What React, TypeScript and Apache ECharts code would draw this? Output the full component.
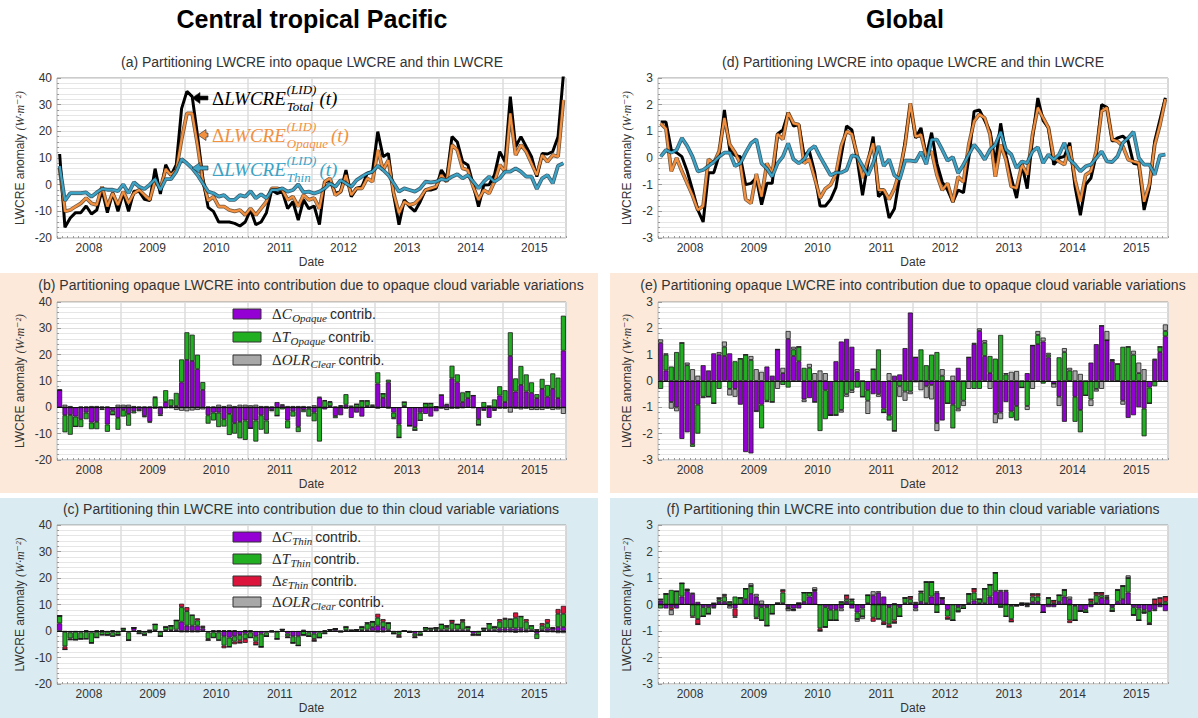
import React, { useEffect, useRef } from 'react';
import * as echarts from 'echarts';

// ---------------- categories / ticks ----------------
const YEARS = [2008, 2009, 2010, 2011, 2012, 2013, 2014, 2015];
const MONTHS: string[] = [];
YEARS.forEach((y) => {
  for (let m = 1; m <= 12; m++) MONTHS.push(`${y}-${m < 10 ? '0' + m : m}`);
});

// ---------------- Central tropical Pacific: (a) lines ----------------
const ctpTotal = [
  11.5, -16, -12.5, -10.5, -10.5, -8, -11, -9.5, -2, -10.5, -3, -10,
  -3, -10, -2.5, -2.5, -5.5, -6, 6, -3.5, 7.5, 3.5, 7.5, 28.5,
  35, 33, 18.5, 2.4, -8.5, -10, -14, -14, -14, -14.5, -15.5, -14,
  -9.5, -15, -14, -10.5, -2, -3.3, -2.6, -9, -6.4, -13.3, -5.7, -9,
  -8, -15, 1, 1.7, -3.3, -2.6, 5.5, -4.5, -1.4, -0.8, 4.2, 4.9,
  19.9, 10.5, 11.7, -3.9, -15, -5.7, -8.2, -10, -6.4, -2, -2, -1.4,
  5.5, 2.4, 18, 16, 8.6, 7.4, -0.1, -8.2, -0.1, 0, 3.6, 12.4,
  8.6, 33, 14.2, 18, 14.2, 10.5, 3, 11.7, 11.5, 12.4, 18, 41,
];
const ctpOpaque = [
  6, -10, -9.5, -8.2, -7, -5, -7, -7.6, -0.8, -8.2, -3.2, -7.6,
  -2.6, -7, -3.2, -2, -3.9, -5.7, 1.7, -1.4, 5.9, 3.6, 5.5, 17,
  26.7, 26.7, 15, 1.5, -6, -4.5, -8.2, -8.2, -9.5, -10, -9.5, -11.4,
  -8.9, -11.4, -8.9, -6.4, -1.4, -1.4, -2, -5.7, -4.5, -8.2, -3.9, -5.7,
  -5, -9, 1.1, 2.4, -3.9, -2.6, 3.6, -3.9, -1.4, -1.4, 2.4, 1.1,
  13, 5.5, 9.2, -3.3, -10.7, -6.4, -7.6, -7, -5.1, -2, -1.4, -0.8,
  3.6, 1.1, 14.9, 13, 6.1, 5.5, -0.8, -5.7, -2, -3.3, 1.1, 7.4,
  4.9, 26.7, 11.1, 14.9, 12.4, 8, 3.6, 11.1, 8.6, 11.1, 10.5, 31.7,
];
const ctpThin = [
  7, -6, -3.2, -3.2, -3.2, -2.9, -4.5, -2.9, -1.6, -1.9, -1.9, -2.4,
  0.1, -3.2, 0.9, -0.8, -1.6, 0, 2.1, -2, 2.1, 2.1, 4.9, 9.6,
  8, 6.1, 3.6, 0.5, -2.6, -3.2, -4.5, -3.9, -5.7, -5.7, -3.9, -4.5,
  -2.4, -5.1, -3.6, -5.1, -2, -2, -1.4, -2.6, -2, 0.1, -2.9, -2.6,
  -3.3, -2.6, -1.4, 0.5, -0.8, 1.7, 0.5, -0.8, 1.7, 3, 4.2, 4.9,
  7.1, 5.5, 3.6, 0.5, -2.6, -1.4, -2, -2.6, -1.4, 1.1, 0.9, 1.1,
  2.1, 1.7, 3, 3.9, 2.4, 3.6, 1.1, -1.4, 1.1, 3, 1.1, 2.4,
  4.9, 4.9, 6.1, 4.9, 3, 3, -1.6, 2.4, 3.6, 0.5, 7.1, 8,
];

// ---------------- (b) opaque contributions ----------------
const ctpCOpaque = [
  6.5, -3, -2.9, -3.5, -4.5, -2, -5.8, -5.5, -0.5, -6.5, -1.3, -4,
  -1, -2.5, -1.5, -1, -3.3, -5.5, -0.5, -2.8, 2, 0.5, 0.5, 9.5,
  18, 17.6, 14.5, 6.6, -3, -2, -2, -4.5, -2.5, -6, -5.5, -5,
  -8, -5, -3, -5, -1, 2, 0.8, -5, -1.5, -7.4, -1, -0.5,
  -2, 3.7, -0.8, 0.5, -3.3, -3, 1, -4, -2, -3.5, 0.5, 0.2,
  9, 3.6, 9.5, -2, -6.5, 0.5, -7, -7.5, -2, -2.5, -3.5, -1.5,
  4.7, 1, 11, 9.5, 2, 3.5, 4.5, -4.5, -1, -4, -1, 4.5,
  2, 19.5, 6, 8.5, 6, 5.5, 3.5, 7, 4, 7, 3.5, 21.5,
];
const ctpTOpaque = [
  0, -6.5, -7.5, -3.8, -3, -2.5, -2.5, -2.8, -0.5, -2.8, -1.5, -4.5,
  -2.5, -4.5, -0.8, -0.5, -0.5, -0.3, 3.8, -0.5, 4.5, 2.5, 5, 8.7,
  10.5, 10, 5.5, 3, -3.2, -3, -5.5, -2.8, -8, -4, -6.3, -7.4,
  0, -8, -5.5, -5, -0.5, -3.2, -0.8, -3, -2, -2, -0.8, -3,
  -3.3, -13, 2.5, 1.5, -0.8, 0.5, 4, 0.3, 1.2, 2.5, 2, 0.5,
  4.3, 1.6, 1, -2, -5, 1.5, 0, -1.2, -3, 1.5, 1.5, 0.3,
  0, 0.3, 4.8, 3, 3.7, 2.5, 0, -2.2, 2, 0.5, 3, 3.5,
  4.5, 9, 5, 7.2, 6.5, 4, 1.5, 3.8, 4.5, 5.9, 7.8, 13.3,
];
const ctpOLROpaque = [
  0.3, 1, 0.5, 0, 0.3, 0.3, 0.5, 0.5, 0.3, 0.3, 0, 1,
  1, 1, 0.5, 0.3, 0.3, 0.3, 0.2, 0.3, -0.3, -0.3, -1, -1.3,
  -1.5, -1.2, -1, -0.8, 0.3, 0.3, 1, 0.5, 1, 0.5, 1, 1,
  0.8, 1, 0.5, 0.5, 0.3, 0, 0.3, 0.5, 0.5, 0.5, 0.5, 0.3,
  0.8, 0.3, 0.2, 0.3, 0.3, 0.3, -0.5, 0.3, 0, 0, 0, 0.3,
  -0.5, 0, -0.5, -0.5, 0, 0, 0, 0, 0, 0, 0, 0,
  -0.5, -1, -0.5, -0.5, -0.3, 0, -0.3, 0, -0.2, 0, -0.3, -0.5,
  -0.5, -2, -0.5, -0.8, -0.5, -1, -1, -1, -0.5, -1, -0.8, -2.5,
];

// ---------------- (c) thin contributions ----------------
const ctpCThin = [
  2.9, -0.3, -0.5, -0.3, -0.5, -0.3, -0.5, -0.3, -0.3, -0.3, -0.5, -0.3,
  0.2, -0.5, 1.2, -0.3, -0.5, -0.3, 0.3, -0.3, 0.3, 0.3, 0.5, 3.5,
  2, 2, 2, 1, -0.5, -0.5, -0.5, -2, -2.5, -2, -1.5, -1,
  -0.5, -2, -1, -0.5, 0.2, -0.3, 0.3, -1, -2, -2, 0.5, -0.5,
  -1, -0.5, -0.3, 0.2, 0.8, 0, 0.3, 0, 0.2, 0.3, 0.5, 1.5,
  2, 1.5, 0.5, -0.3, -0.3, 0, -0.2, -1, -0.5, 0.3, 0.3, 0.4,
  0.5, 0.5, 0.5, 0.5, 0.5, 0.5, -1, -0.3, 0.3, 0.5, 0.5, 1,
  1, 1, 1, 1, 0.5, 0.5, -1, 0.5, 1, 1, 1.5, 1.5,
];
const ctpTThin = [
  2.8, -5.5, -2.3, -3, -2.5, -2.7, -4, -2.2, -1.2, -1.2, -1.5, -1.2,
  0.8, -3, 0, -0.7, -1, -0.5, 2.2, -1.7, 1.2, 1.7, 3.5, 5.5,
  5.5, 4, 2, 0.5, -2.5, -2, -3, -3.5, -3.5, -2, -2, -2,
  -2, -2, -5, -1.5, -0.3, -2.7, 0.3, -1, -2.5, -3.5, -1.5, -1.5,
  -2, -2, -0.7, 0.3, 0, -0.3, 1.2, 0.3, 0.3, 1.2, 2.3, 2,
  3, 2, 2.5, -0.7, -1.2, 0, -0.3, -1, -1, 1, 0.7, 0.8,
  2, 1, 2.5, 2, 3, 1, -0.5, -1.2, 0.7, 2.3, 1, 2.5,
  3.5, 3.5, 4, 4.5, 3, 1.5, -2, 1.5, 2, 0, 5, 5,
];
const ctpEpsThin = [
  0, -1.2, -0.5, 0, 0, 0, 0, 0, 0, 0, 0, 0,
  0, 0, 0, 0, 0, 0.3, 0, 0, 0, 0, 0, 1.3,
  1.5, 0, 0.8, 0.5, -0.5, 0, 0, -1, 0, -1, -1, -1.5,
  0, -1.2, 0, 0, 0, 0, 0, -0.5, 0, 0, 0, 0,
  -0.8, 0, 0, 0, 0, 0, 0, 0, 0, 0, 0.3, 0,
  1.5, 1, 0, 0, -0.8, 0, 0, -0.5, 0, 0, 0, 0,
  0, 0.5, 1, 0, 0.7, 0, 0, 0, 0, 0, 0, 1,
  0.5, 0, 2, 0, 1, 0, 0.5, 1, 1.5, 0.5, 1.8, 3,
];
const ctpOLRThin = [
  0, 0, 0, 0, 0, 0.3, 0, 0.3, 0.3, 0, 0.3, 0,
  -0.3, 0, 0, 0.3, 0, 0, 0, 0, 0, 0, 0, -0.5,
  -0.5, -0.5, -0.5, -0.3, 0, 0.3, 0.3, 0.3, 0.3, 0.3, 0, 0.3,
  0.3, 0, 0, 0, 0, 0, 0, 0, 0, 0, 0, 0,
  0, 0, 0.3, 0, 0, 0, 0, 0, 0, 0, 0, 0,
  -0.5, -0.5, 0, 0, 0, 0, 0, 0, 0, 0, 0, 0,
  0, 0, 0, 0, 0, 0, 0, 0, 0, 0, 0, -0.5,
  -0.5, -0.5, -0.7, -0.5, -0.5, -0.3, 0, -0.3, -0.5, -0.5, -0.8, -0.8,
];

// ---------------- Global: (d) lines ----------------
const glbTotal = [
  1.35, 1.35, 0.3, 0.2, 0.05, -0.5, -1.2, -1.95, -2.4, -0.55, -0.55, 0.1,
  1.8, 0.3, 0.1, 0.05, -1, -0.95, -0.75, -1.75, -0.95, -0.95, 0.9, 1.05,
  1.7, 1.2, 1.25, 0.1, 0.25, -0.55, -1.8, -1.8, -1.55, -1.1, 0.1, 1.2,
  1.05, -0.05, -1.4, -0.2, 0.8, -1.45, -1.25, -2.25, -1.9, -0.7, 0.6, 2.0,
  0.75, 1.13, 0.06, 0.95, -0.2, -0.9, -1.2, -1.65, -1.2, -1.3, 0, 1.75,
  1.8, 1.4, 1.0, -0.2, 1.3, 0.1, -0.75, -1.5, -0.25, -1.15, 0.75, 2.25,
  1.4, 1.13, -0.25, 0, 0.06, 0.57, -1.07, -2.15, -1.0, -0.75, 0.13, 2.0,
  1.9, 0.63, 0.75, 0.82, 0.63, -0.2, -0.25, -1.95, -1.13, 0.63, 1.45, 2.26,
];
const glbOpaque = [
  1.3, 1.1, -0.5, 0, -0.5, -0.95, -1.4, -1.95, -1.8, -0.05, -0.2, 0.25,
  1.5, 0.5, 0.2, -0.2, -1.55, -1.7, -0.6, -1.45, -0.2, -0.6, 0.9, 0.7,
  1.7, 1.3, 1.25, -0.2, -0.05, -0.75, -1.5, -1.15, -1.0, -0.6, 0.45, 1.0,
  0.9, 0.1, -0.75, -0.1, 0.55, -1.2, -1.2, -1.55, -1.15, -0.5, 0.5, 2.05,
  0.8, 0.88, 0.06, 0.25, -0.63, -1.2, -0.95, -1.65, -0.7, -0.9, 0.5, 1.38,
  1.64, 1.5, 0.88, -0.7, 0.5, -0.06, -1.07, -1.13, -0.25, -0.63, 0.88, 1.89,
  1.5, 1.13, 0, -0.13, -0.25, 0.44, -0.82, -1.64, -0.63, -0.5, 0.25, 1.76,
  1.89, 0.69, 0.63, 0.44, -0.06, -0.13, -0.19, -1.64, -1.0, 0.5, 1.26, 2.2,
];
const glbThin = [
  0.05, 0.3, 0.2, 0.3, 0.75, 0.45, 0.05, -0.5, -0.45, -0.3, -0.15, 0.05,
  0.2, 0.2, -0.3, -0.2, 0.2, 0.55, 0.7, -0.2, -0.4, -0.7, -0.2, 0.05,
  0.55, -0.05, -0.2, -0.05, 0.3, 0.45, 0.05, -0.3, -0.65, -0.55, -0.55, -0.45,
  0.1, 0.05, -0.3, -0.65, -0.2, 0.45, -0.3, -0.05, -0.65, -0.8, -0.1, -0.1,
  -0.13, 0.23, -0.23, 0.69, 0.69, 0.31, -0.1, 0.03, -0.57, -0.25, 0.13, 0.5,
  0.25, -0.06, 0.31, 0.5, 0.98, 0.31, 0.13, -0.38, -0.13, -0.19, 0.25, 0.4,
  -0.19, 0.13, -0.06, 0.13, 0.57, -0.06, -0.25, -0.5, -0.31, -0.25, 0, 0.25,
  -0.13, -0.15, 0.06, 0.57, 0.75, 0.98, 0, -0.25, -0.25, -0.63, 0.1, 0.13,
];

// ---------------- (e) global opaque contributions ----------------
const glbCOpaque = [
  1.45, 0.4, -0.8, -1.0, -2.2, -1.95, -2.4, -0.9, 0.6, 0.4, 1.05, 1.0,
  0.95, 1.05, -0.3, -0.9, -2.7, -2.75, -1.15, -0.9, 0.55, 0.2, 1.2, 0.3,
  1.6, 0.95, 0.75, -0.7, -0.65, -0.8, 0, -0.35, -1.3, 0.75, 1.5, 1.6,
  1.3, 0.35, 0, -0.35, -0.5, -0.5, -1.05, -1.3, 0.2, 0.25, 1.25, 2.6,
  0.9, 0, -0.2, -0.15, -1.6, -1.5, 0, -0.9, 0.5, 0, 0.9, 1.4,
  1.9, 0.95, 0.3, -1.25, -1.2, -0.8, -1.15, -0.95, 0, 0.3, 1.35, 1.4,
  1.5, 0.9, -0.1, -0.6, -1.55, 0, -0.6, -1.1, 0, 0.7, 1.4, 2.1,
  1.55, 0.75, 0, -0.75, -1.4, -1.3, -1.0, -1.05, -0.25, 0.8, 1.1, 1.7,
];
const glbTOpaque = [
  -0.3, 0.6, 0.55, 1.1, 1.45, 0.6, -0.1, -1.1, -0.6, -0.6, -0.85, -0.3,
  0.35, -0.3, 0.75, 0.85, 1.0, 0.8, 0, -0.9, -0.75, -0.8, 0, -0.15,
  -0.25, 0.25, 0.55, 0.5, 0.5, 0, -1.9, -1.1, 0, -1.3, -1.1, -0.5,
  -0.35, -0.25, -0.6, -0.4, 0.45, 1.2, -0.15, -0.2, -1.9, -0.2, -0.4, -0.4,
  0, 1.2, 0.6, 1.0, 1.1, 0.2, -0.85, -0.9, -1.05, -0.75, 0, -0.3,
  -0.3, 0.5, 0.65, 0.85, 1.75, 0.25, -0.25, -0.55, -0.25, -0.95, 0, 0.35,
  -0.1, 0.1, 0, 0.9, 1.1, 0.4, -0.95, -0.85, -0.55, -0.7, -0.3, 0,
  0, 0.05, 0.65, 1.3, 1.3, 1.0, 0.3, -1.05, -0.6, -0.2, 0.2, 0.2,
];
const glbOLROpaque = [
  0.13, 0.05, -0.25, -0.15, 0, 0.1, 0.45, 0.2, -0.05, 0, 0, 0.1,
  0.2, -0.25, -0.3, 0, 0, 0.15, 0.45, 0.35, -0.05, 0, -0.3, 0.2,
  0.3, 0.1, 0, -0.1, 0.15, 0.3, 0.4, 0.3, 0, 0, -0.1, -0.1,
  -0.1, 0.1, 0, -0.5, 0, -0.1, 0, 0.3, 0, -0.4, -0.35, -0.1,
  -0.05, -0.35, -0.45, -0.55, -0.3, 0.25, 0, 0.2, -0.1, -0.2, -0.3, 0.05,
  0.1, 0.1, -0.3, -0.35, -0.25, 0.05, 0.35, 0.38, 0, -0.15, -0.3, 0.15,
  0.15, 0.07, -0.15, -0.35, 0.15, 0.1, 0.4, 0.27, 0, -0.25, -0.1, -0.3,
  0.35, 0.02, 0, -0.15, 0, 0.15, 0.4, 0.45, 0, 0.05, 0, 0.25,
];

// ---------------- (f) global thin contributions ----------------
const glbCThin = [
  0.15, -0.15, -0.1, -0.15, 0.3, 0.5, 0.4, 0.1, -0.1, -0.1, -0.1, 0.1,
  0.1, -0.05, -0.15, 0, 0.2, 0.4, 0.3, -0.1, -0.1, 0, 0, 0.05,
  -0.1, -0.15, -0.15, 0.1, 0.3, 0.5, 0, -0.1, -0.2, -0.2, -0.15, 0.1,
  -0.15, -0.3, -0.15, 0.05, 0.35, 0.45, 0.3, -0.1, 0.05, -0.1, 0.05, 0.05,
  -0.15, 0.1, 0.05, 0.3, 0.45, 0.2, -0.2, 0, -0.1, -0.05, 0.05, 0.15,
  0.05, 0.05, 0.3, 0.5, 0.5, 0.5, -0.05, 0, -0.05, -0.05, 0.1, 0.1,
  -0.3, -0.1, -0.1, 0.1, 0.3, 0.2, -0.05, -0.25, -0.2, -0.1, 0.05, 0.25,
  0.2, -0.1, 0.1, 0.2, 0.45, -0.1, -0.15, -0.2, -0.25, -0.2, -0.1, -0.25,
];
const glbTThin = [
  -0.15, 0.4, 0.55, 0.5, 0.5, 0.05, -0.45, -0.55, -0.35, -0.25, -0.05, 0.1,
  0.2, 0.1, 0.3, 0.25, 0.4, 0.3, -0.5, -0.5, -0.7, -0.35, 0.05, 0.4,
  -0.05, -0.05, 0.05, 0.35, 0.15, 0.05, -0.9, -0.75, -0.4, -0.4, 0.1, 0.1,
  0.15, -0.25, -0.3, 0.3, -0.5, -0.55, -0.65, -0.65, -0.6, -0.35, 0.2, 0.15,
  0.05, 0.35, 0.8, 0.55, -0.3, 0.05, -0.25, -0.6, -0.15, -0.1, 0.35, 0.3,
  0.15, 0.55, 0.45, 0.7, -0.1, -0.45, -0.5, -0.05, 0.05, 0.05, 0.2, 0.2,
  0, 0.25, 0.05, 0.25, 0.25, -0.6, -0.55, 0, -0.1, 0.1, 0.3, 0.1,
  0.05, -0.15, 0.45, 0.5, 0.55, -0.3, -0.45, -0.1, -0.45, -0.05, 0.05, 0.1,
];
const glbEpsThin = [
  0.05, 0, -0.1, 0, 0, 0, -0.05, -0.2, 0, 0, 0.05, 0.05,
  0.05, 0, -0.3, 0, 0, 0, -0.05, 0, 0, 0, 0, 0.1,
  0, 0, 0, 0, 0, 0, -0.1, 0, 0, 0, 0, 0.15,
  0.05, 0, 0, 0, -0.15, 0, -0.1, -0.1, -0.1, 0, 0, 0.1,
  0.05, 0.05, 0, 0, 0, 0, -0.1, 0, 0, 0, 0, 0.15,
  0, 0, 0, 0, 0, 0, -0.1, 0, 0, 0, 0.1, 0.1,
  0, 0, 0.1, 0, 0, -0.1, 0, 0, 0, 0.1, 0.1, 0.1,
  0.05, 0, 0, 0, 0, 0, 0, 0, -0.05, 0.2, 0.2, 0.2,
];
const glbOLRThin = [
  0, 0, -0.2, 0, 0, 0.05, 0.05, 0, 0, 0, 0, 0,
  0.05, -0.1, -0.05, 0, 0, 0.1, 0.1, 0.15, 0, 0, 0, 0,
  -0.1, -0.05, 0, 0, 0, 0.1, 0, 0, 0, 0, -0.1, 0,
  0, -0.1, -0.1, 0, 0.15, 0.05, 0, 0, 0, 0, 0, 0,
  -0.1, 0, 0, 0, 0.05, 0, 0, 0, -0.05, 0, 0, 0,
  0, 0, 0, 0, 0.05, 0.05, 0, 0, 0, -0.05, 0, 0,
  0, 0, 0, 0, 0, 0.1, 0, 0, 0, 0, 0, 0,
  0.05, 0, 0, 0, 0.1, 0, 0, -0.05, 0, 0, 0, 0,
];

// ---------------- styling ----------------
const SANS = "'Liberation Sans', Arial, Helvetica, sans-serif";
const SERIF = "'Liberation Serif', 'DejaVu Serif', serif";
const C_PURPLE = '#9400d3';
const C_GREEN = '#22b022';
const C_RED = '#dc143c';
const C_GRAY = '#a8a8a8';
const C_ORANGE = '#f39040';
const C_BLUE = '#3aa3c6';
const TXT = '#2a2a2a';

const GRIDS = [
  { left: 57, top: 78, width: 509, height: 160 },
  { left: 57, top: 302, width: 509, height: 158 },
  { left: 57, top: 525, width: 509, height: 159 },
  { left: 658, top: 78, width: 510, height: 160 },
  { left: 658, top: 302, width: 510, height: 158 },
  { left: 658, top: 525, width: 510, height: 159 },
];

let measureCtx: CanvasRenderingContext2D | null = null;
function tw(text: string, size: number, family: string, style = 'normal', weight = 'normal') {
  if (!measureCtx) measureCtx = document.createElement('canvas').getContext('2d');
  if (!measureCtx) return text.length * size * 0.55;
  measureCtx.font = `${style} ${weight} ${size}px ${family}`;
  return measureCtx.measureText(text).width;
}

function T(x: number, y: number, text: string, size: number, family: string, fill: string, style = 'normal', weight = 'normal', align = 'left') {
  return {
    type: 'text', x, y, z: 100, silent: true,
    style: {
      text, fontSize: size, fontFamily: family, fontStyle: style, fontWeight: weight, fill,
      textAlign: align, textVerticalAlign: 'middle', verticalAlign: 'middle',
    },
  };
}

function annot(x: number, y: number, sub: string, color: string) {
  const els: any[] = [];
  let cx = x;
  els.push(T(cx, y, 'Δ', 19, SERIF, color));
  cx += tw('Δ', 19, SERIF);
  els.push(T(cx, y, 'LWCRE', 19, SERIF, color, 'italic'));
  cx += tw('LWCRE', 19, SERIF, 'italic') + 1;
  els.push(T(cx, y - 9, '(LID)', 13, SERIF, color, 'italic'));
  els.push(T(cx, y + 8, sub, 13, SERIF, color, 'italic'));
  cx += Math.max(tw('(LID)', 13, SERIF, 'italic'), tw(sub, 13, SERIF, 'italic')) + 3;
  els.push(T(cx, y, '(t)', 19, SERIF, color, 'italic'));
  return els;
}

function arrow(tipX: number, y: number, tailX: number, color: string) {
  return {
    type: 'polygon', z: 100, silent: true,
    shape: {
      points: [
        [tipX, y], [tipX + 8, y - 5.5], [tipX + 8, y - 2], [tailX, y - 2],
        [tailX, y + 2], [tipX + 8, y + 2], [tipX + 8, y + 5.5],
      ],
    },
    style: { fill: color, stroke: '#222', lineWidth: 0.6 },
  };
}

function legendRow(y: number, color: string, sym: string, sub: string) {
  const els: any[] = [];
  els.push({
    type: 'rect', z: 100, silent: true,
    shape: { x: 233, y: y - 5, width: 28, height: 10 },
    style: { fill: color, stroke: '#333', lineWidth: 1 },
  });
  let cx = 272;
  els.push(T(cx, y, 'Δ', 15, SERIF, TXT));
  cx += tw('Δ', 15, SERIF);
  els.push(T(cx, y, sym, 15, SERIF, TXT, 'italic'));
  cx += tw(sym, 15, SERIF, 'italic') + 0.5;
  els.push(T(cx, y + 4, sub, 11, SERIF, TXT, 'italic'));
  cx += tw(sub, 11, SERIF, 'italic') + 3;
  els.push(T(cx, y, 'contrib.', 14, SANS, TXT));
  return els;
}

function xAxisFor(g: number) {
  return {
    type: 'category', gridIndex: g, data: MONTHS, boundaryGap: true,
    axisLine: { show: false, onZero: false },
    axisTick: { show: true, inside: true, length: 2, interval: 0, lineStyle: { color: '#999' } },
    axisLabel: {
      interval: (i: number) => i % 12 === 6,
      formatter: (v: string) => v.slice(0, 4),
      color: '#333', fontSize: 12, fontFamily: SANS, margin: 4, padding: [0, 5, 0, 0],
    },
    splitLine: { show: true, interval: (i: number) => i % 12 === 0, lineStyle: { color: '#dcdcdc', width: 1.5 } },
    name: 'Date', nameLocation: 'middle', nameGap: 18,
    nameTextStyle: { color: '#333', fontSize: 12, fontFamily: SANS },
  };
}

function yAxisFor(g: number, min: number, max: number, interval: number, gap: number) {
  return {
    type: 'value', gridIndex: g, min, max, interval,
    axisLine: { show: false, onZero: false },
    axisTick: { show: true, inside: true, length: 4, lineStyle: { color: '#999' } },
    minorTick: { show: true, splitNumber: 5, length: 2, lineStyle: { color: '#999' } },
    splitLine: { show: true, lineStyle: { color: '#dedede' } },
    minorSplitLine: { show: true, lineStyle: { color: '#e6e6e6' } },
    axisLabel: { color: '#333', fontSize: 12, fontFamily: SANS, margin: 5 },
    name: '{a|LWCRE anomaly }{b|(W·m⁻²)}',
    nameLocation: 'middle', nameGap: gap, nameRotate: 90,
    nameTextStyle: {
      rich: {
        a: { fontFamily: SANS, fontSize: 12, color: '#333' },
        b: { fontFamily: SERIF, fontStyle: 'italic', fontSize: 12, color: '#333' },
      },
    },
  };
}

function line(g: number, data: number[], color: string, width: number, z: number) {
  return {
    type: 'line', xAxisIndex: g, yAxisIndex: g, data, showSymbol: false, symbol: 'none',
    lineStyle: { color, width }, itemStyle: { color }, z, silent: true, clip: true,
  };
}

function bar(g: number, stack: string, data: number[], color: string, zeroLine = false) {
  const s: any = {
    type: 'bar', xAxisIndex: g, yAxisIndex: g, data, stack, barCategoryGap: '6%',
    itemStyle: { color, borderColor: '#1a1a1a', borderWidth: 0.8 }, silent: true,
  };
  if (zeroLine) {
    s.markLine = {
      silent: true, symbol: 'none', label: { show: false },
      lineStyle: { color: '#111', width: 1, type: 'solid' },
      data: [{ yAxis: 0 }],
    };
  }
  return s;
}

function buildOption() {
  const graphic: any[] = [
    { type: 'rect', z: -10, silent: true, shape: { x: 0, y: 273, width: 598, height: 220 }, style: { fill: '#fce9da' } },
    { type: 'rect', z: -10, silent: true, shape: { x: 610, y: 273, width: 588, height: 220 }, style: { fill: '#fce9da' } },
    { type: 'rect', z: -10, silent: true, shape: { x: 0, y: 498, width: 598, height: 220 }, style: { fill: '#daecf2' } },
    { type: 'rect', z: -10, silent: true, shape: { x: 610, y: 498, width: 588, height: 220 }, style: { fill: '#daecf2' } },
    T(312, 19, 'Central tropical Pacific', 25, SANS, '#000', 'normal', 'bold', 'center'),
    T(905, 19, 'Global', 25, SANS, '#000', 'normal', 'bold', 'center'),
    T(312, 62, '(a) Partitioning LWCRE into opaque LWCRE and thin LWCRE', 14, SANS, '#333', 'normal', 'normal', 'center'),
    T(913, 62, '(d) Partitioning LWCRE into opaque LWCRE and thin LWCRE', 14, SANS, '#333', 'normal', 'normal', 'center'),
    T(311, 285, '(b) Partitioning opaque LWCRE into contribution due to opaque cloud variable variations', 14, SANS, '#333', 'normal', 'normal', 'center'),
    T(913, 285, '(e) Partitioning opaque LWCRE into contribution due to opaque cloud variable variations', 14, SANS, '#333', 'normal', 'normal', 'center'),
    T(311, 509, '(c) Partitioning thin LWCRE into contribution due to thin cloud variable variations', 14, SANS, '#333', 'normal', 'normal', 'center'),
    T(913, 509, '(f) Partitioning thin LWCRE into contribution due to thin cloud variable variations', 14, SANS, '#333', 'normal', 'normal', 'center'),
    arrow(192, 98, 208, '#000'),
    arrow(198, 135, 208, C_ORANGE),
    arrow(192, 168, 208, C_BLUE),
    ...annot(212, 98, 'Total', '#000'),
    ...annot(212, 135, 'Opaque', C_ORANGE),
    ...annot(212, 169, 'Thin', C_BLUE),
    ...legendRow(314, C_PURPLE, 'C', 'Opaque'),
    ...legendRow(337, C_GREEN, 'T', 'Opaque'),
    ...legendRow(360, C_GRAY, 'OLR', 'Clear'),
    ...legendRow(537, C_PURPLE, 'C', 'Thin'),
    ...legendRow(559, C_GREEN, 'T', 'Thin'),
    ...legendRow(581, C_RED, 'ε', 'Thin'),
    ...legendRow(602, C_GRAY, 'OLR', 'Clear'),
  ];

  const series: any[] = [
    // (a)
    line(0, ctpTotal, '#000', 3, 3),
    line(0, ctpOpaque, 'rgba(70,35,0,0.75)', 3.8, 4),
    line(0, ctpOpaque, C_ORANGE, 2.2, 5),
    line(0, ctpThin, 'rgba(0,40,60,0.75)', 3.8, 6),
    line(0, ctpThin, C_BLUE, 2.2, 7),
    // (b)
    bar(1, 'b', ctpCOpaque, C_PURPLE, true),
    bar(1, 'b', ctpTOpaque, C_GREEN),
    bar(1, 'b', ctpOLROpaque, C_GRAY),
    // (c)
    bar(2, 'c', ctpCThin, C_PURPLE, true),
    bar(2, 'c', ctpTThin, C_GREEN),
    bar(2, 'c', ctpEpsThin, C_RED),
    bar(2, 'c', ctpOLRThin, C_GRAY),
    // (d)
    line(3, glbTotal, '#000', 3, 3),
    line(3, glbOpaque, 'rgba(70,35,0,0.75)', 3.8, 4),
    line(3, glbOpaque, C_ORANGE, 2.2, 5),
    line(3, glbThin, 'rgba(0,40,60,0.75)', 3.8, 6),
    line(3, glbThin, C_BLUE, 2.2, 7),
    // (e)
    bar(4, 'e', glbCOpaque, C_PURPLE, true),
    bar(4, 'e', glbTOpaque, C_GREEN),
    bar(4, 'e', glbOLROpaque, C_GRAY),
    // (f)
    bar(5, 'f', glbCThin, C_PURPLE, true),
    bar(5, 'f', glbTThin, C_GREEN),
    bar(5, 'f', glbEpsThin, C_RED),
    bar(5, 'f', glbOLRThin, C_GRAY),
  ];

  return {
    animation: false,
    backgroundColor: '#fff',
    grid: GRIDS.map((g) => ({ ...g, show: true, backgroundColor: '#fff', borderColor: '#999', borderWidth: 1, containLabel: false })),
    xAxis: [0, 1, 2, 3, 4, 5].map((g) => xAxisFor(g)),
    yAxis: [
      yAxisFor(0, -20, 40, 10, 31),
      yAxisFor(1, -20, 40, 10, 31),
      yAxisFor(2, -20, 40, 10, 31),
      yAxisFor(3, -3, 3, 1, 25),
      yAxisFor(4, -3, 3, 1, 25),
      yAxisFor(5, -3, 3, 1, 25),
    ],
    graphic: { elements: graphic },
    series,
  };
}

export default function App() {
  const ref = useRef<HTMLDivElement>(null);
  useEffect(() => {
    if (!ref.current) return;
    const chart = echarts.init(ref.current, null, { renderer: 'svg' });
    chart.setOption(buildOption() as any);
    return () => chart.dispose();
  }, []);
  return (
    <div
      ref={ref}
      style={{ position: 'fixed', left: 0, top: 0, width: 1198, height: 718, background: '#fff' }}
    />
  );
}
